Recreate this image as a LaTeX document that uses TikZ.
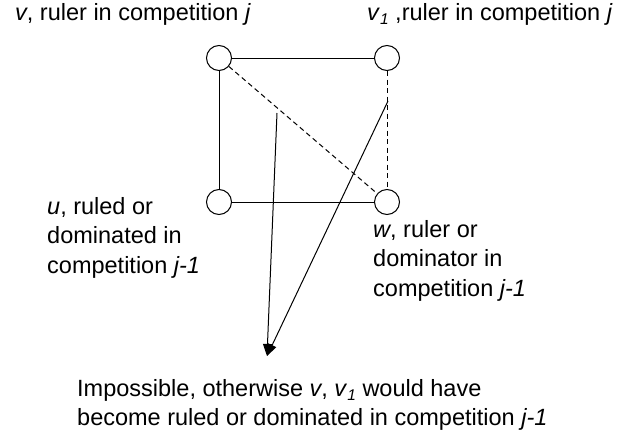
\documentclass[tikz,border=0pt]{standalone}
\usepackage{fontspec}
\setmainfont{Liberation Sans}
\usetikzlibrary{arrows.meta,calc}
\newcommand{\subone}{\raisebox{-4.5pt}{\fontsize{15.5}{15.5}\selectfont\itshape 1}}
\begin{document}
\begin{tikzpicture}[x=1pt,y=-1pt,
  vert/.style={circle,draw,line width=1pt,minimum size=25pt,inner sep=0pt,fill=white},
  edge/.style={line width=1pt},
  dedge/.style={line width=1pt,dash pattern=on 5pt off 3.5pt},
  arr/.style={line width=1pt,-{Triangle[length=12pt,width=9pt]}},
  lbl/.style={font=\fontsize{23.5}{29.5}\selectfont,inner sep=0pt,align=left}
]
\useasboundingbox (0,0) rectangle (637,434);
\node[vert] (v) at (219,58) {};
\node[vert] (v1) at (387,58) {};
\node[vert] (u) at (219,202) {};
\node[vert] (w) at (387,202) {};
\draw[edge] (v) -- (v1);
\draw[edge] (v) -- (u);
\draw[edge] (u) -- (w);
\draw[dedge] (v) -- (w);
\draw[dedge] (v1) -- (w);
\coordinate (a) at (277,113);
\coordinate (b) at (388,101);
\coordinate (p) at (267,356);
\draw[arr] (a) -- (p);
\draw[arr] (b) -- (p);
\node[lbl,anchor=base west] (tl) at (15,20) {\textit{v}, ruler in competition \textit{j}};
\node[lbl,anchor=base west] (tr) at (367,20) {\textit{v}\subone\ ,ruler in competition \textit{j}};
\node[lbl,anchor=north west] (ul) at (47,193.4) {\strut\textit{u}, ruled or\\dominated in\\competition \textit{j-1}};
\node[lbl,anchor=north west] (wl) at (373,216.4) {\strut\textit{w}, ruler or\\dominator in\\competition \textit{j-1}};
\node[lbl,anchor=north west] (bl) at (77,375.4) {\strut Impossible, otherwise \textit{v}, \textit{v}\subone\ would have\\become ruled or dominated in competition \textit{j-1}};
\end{tikzpicture}
\end{document}
